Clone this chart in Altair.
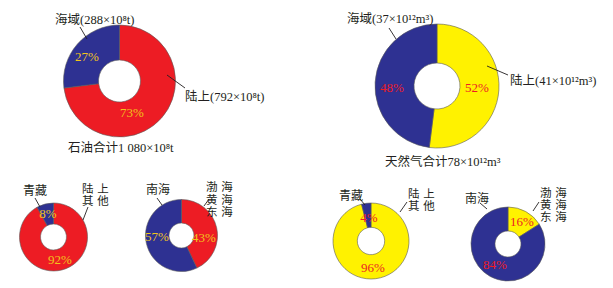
import altair as alt
import pandas as pd

# ---------------- data ----------------
oil_total_cats = ["陆上", "海域"]
oil_total_vals = [73, 27]
gas_total_cats = ["陆上", "海域"]
gas_total_vals = [52, 48]
oil_land_cats = ["陆上其他", "青藏"]
oil_land_vals = [92, 8]
oil_sea_cats = ["渤海黄海东海", "南海"]
oil_sea_vals = [43, 57]
gas_land_cats = ["陆上其他", "青藏"]
gas_land_vals = [96, 4]
gas_sea_cats = ["渤海黄海东海", "南海"]
gas_sea_vals = [16, 84]

RED = "#ED1C24"
BLUE = "#2E3192"
YEL = "#FFF200"
TXT = "#231F20"
PCT_Y = "#F2C31B"
PCT_R = "#ED1C24"

FONT = "Liberation Serif, Noto Sans CJK SC"
CJK = "Noto Sans CJK SC"
OFF = 8  # page margin


def P(v):
    return v - OFF


# (cats, vals, colors, cx, cy, r_out, r_in, pct label color, pct label positions)
pies = [
    (oil_total_cats, oil_total_vals, [RED, BLUE], 119.5, 81, 56, 21, PCT_Y, [(132, 113), (87, 57)]),
    (gas_total_cats, gas_total_vals, [YEL, BLUE], 437, 86, 62, 23, PCT_R, [(477, 88), (392, 88)]),
    (oil_land_cats, oil_land_vals, [RED, BLUE], 53.5, 237, 34, 13, PCT_Y, [(60, 260), (48, 214)]),
    (oil_sea_cats, oil_sea_vals, [RED, BLUE], 181.5, 235.5, 36, 12.5, PCT_Y, [(204, 238), (157, 237)]),
    (gas_land_cats, gas_land_vals, [YEL, BLUE], 371, 241, 38, 13.7, PCT_R, [(373, 268), (369, 218)]),
    (gas_sea_cats, gas_sea_vals, [YEL, BLUE], 508, 244, 37, 13, PCT_R, [(522, 222), (495, 265)]),
]

layers = []
for i, (cats, vals, cols, cx, cy, ro, ri, pcol, ppos) in enumerate(pies):
    df = pd.DataFrame({"cat": cats, "val": vals, "col": cols, "idx": list(range(len(cats)))})
    arc = alt.Chart(df).mark_arc(
        outerRadius=ro, innerRadius=ri, stroke="#5a5a5a", strokeWidth=0.6
    ).encode(
        theta=alt.Theta("val:Q", stack=True),
        color=alt.Color("col:N", scale=None),
        order=alt.Order("idx:Q"),
        x=alt.value(P(cx)),
        y=alt.value(P(cy)),
    )
    layers.append(arc)
    for k, (px, py) in enumerate(ppos):
        t = alt.Chart(df.iloc[[k]]).mark_text(
            font=FONT, fontSize=13, color=pcol, align="center", baseline="middle"
        ).encode(
            text=alt.Text("label:N"),
            x=alt.value(P(px)),
            y=alt.value(P(py)),
        ).transform_calculate(label="datum.val + '%'")
        layers.append(t)

SP = "\u2004"
# annotation texts: (text, x_left, y_mid, size, font)
notes = [
    ("海域(288×10⁸t)", 55, 20, 12.5, FONT),
    ("陆上(792×10⁸t)", 185, 97, 12.5, FONT),
    ("石油合计1 080×10⁸t", 68, 148, 12.5, FONT),
    ("海域(37×10¹²m³)", 347, 19, 12.5, FONT),
    ("陆上(41×10¹²m³)", 510, 81, 12.5, FONT),
    ("天然气合计78×10¹²m³", 385, 162, 12.5, FONT),
    ("青藏", 23, 191, 12, CJK),
    ("陆" + SP + "上", 82, 190, 11.5, CJK),
    ("其" + SP + "他", 82, 202, 11.5, CJK),
    ("南海", 146, 190, 12, CJK),
    ("渤" + SP + "海", 206, 188, 11.5, CJK),
    ("黄" + SP + "海", 206, 200.5, 11.5, CJK),
    ("东" + SP + "海", 206, 213, 11.5, CJK),
    ("青藏", 339, 196, 12, CJK),
    ("陆" + SP + "上", 408, 195, 11.5, CJK),
    ("其" + SP + "他", 408, 207, 11.5, CJK),
    ("南海", 465, 199, 12, CJK),
    ("渤" + SP + "海", 540, 194, 11.5, CJK),
    ("黄" + SP + "海", 540, 206, 11.5, CJK),
    ("东" + SP + "海", 540, 218, 11.5, CJK),
]
for txt, x, y, fs, fnt in notes:
    layers.append(
        alt.Chart(pd.DataFrame({"t": [txt]})).mark_text(
            font=fnt, fontSize=fs, color=TXT, align="left", baseline="middle"
        ).encode(text="t:N", x=alt.value(P(x)), y=alt.value(P(y)))
    )

# leader lines: (x1, y1, x2, y2)
leaders = [
    (80, 27, 87, 39),
    (167, 75, 185, 88),
    (389, 28, 396, 39),
    (487, 66, 508, 75),
    (35, 198, 40, 207),
    (88, 207, 83, 220),
    (157, 198, 162, 205),
    (209, 199, 204, 206),
    (360, 199, 365, 205),
    (407, 202, 400, 212),
    (480, 203, 487, 209),
    (539, 202, 533, 211),
]
for x1, y1, x2, y2 in leaders:
    layers.append(
        alt.Chart(pd.DataFrame({"a": [0]})).mark_rule(color=TXT, strokeWidth=0.9).encode(
            x=alt.value(P(x1)), y=alt.value(P(y1)), x2=alt.value(P(x2)), y2=alt.value(P(y2))
        )
    )

chart = alt.layer(*layers).resolve_scale(theta="independent").properties(
    width=597, height=272, padding=0, background="white"
).configure_view(stroke=None)

chart.save("out.html", embed_options={"renderer": "svg", "actions": False})
